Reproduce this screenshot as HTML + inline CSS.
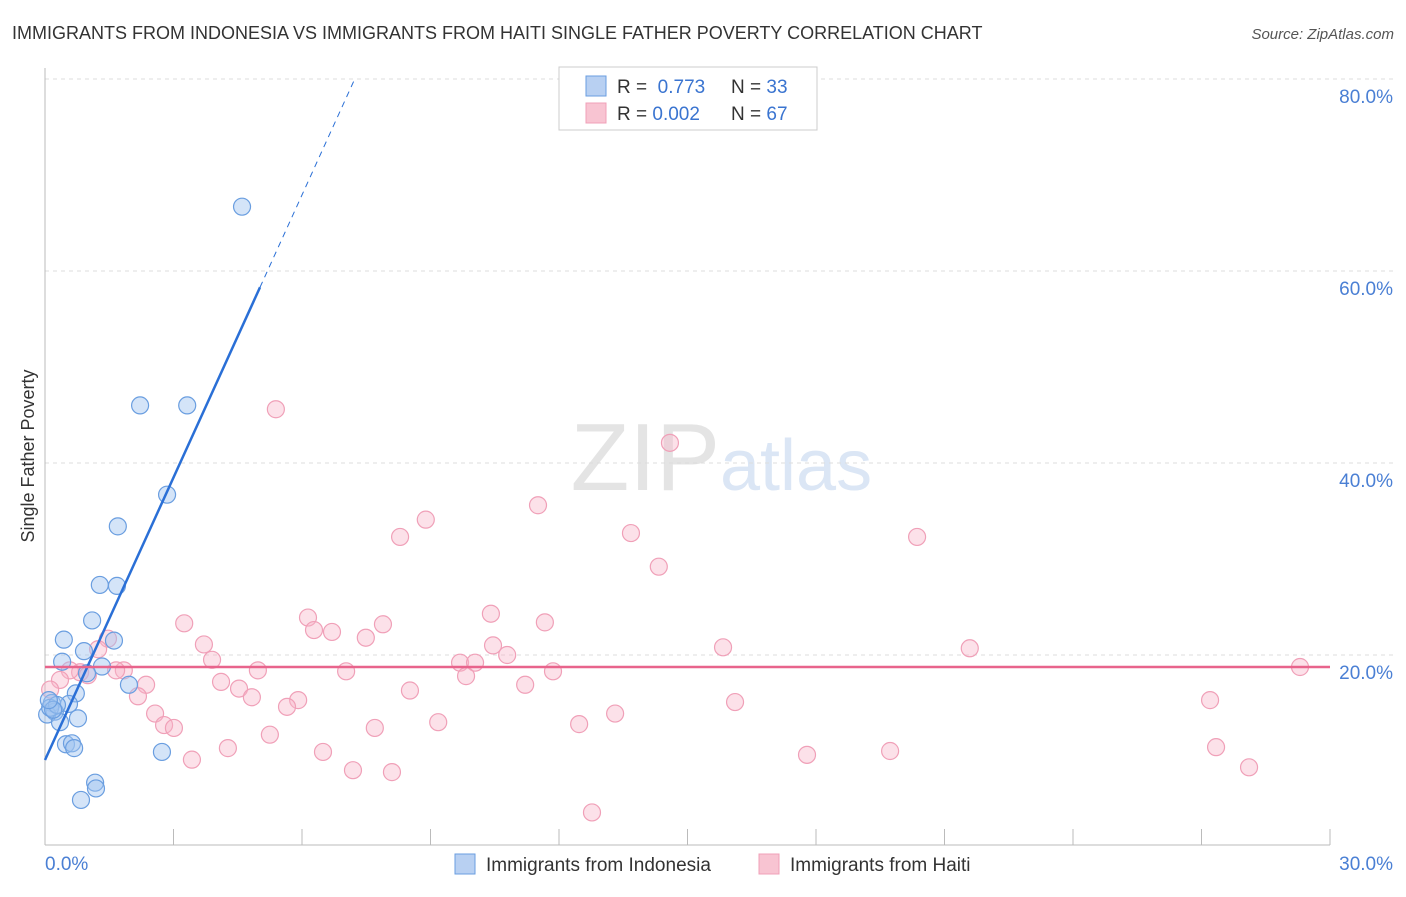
<!DOCTYPE html>
<html><head><meta charset="utf-8"><style>
body{margin:0;background:#fff;font-family:"Liberation Sans",sans-serif}
svg text{font-family:"Liberation Sans",sans-serif}
</style></head><body>
<svg width="1406" height="892" xmlns="http://www.w3.org/2000/svg">
<text x="12" y="39" font-size="18" fill="#333">IMMIGRANTS FROM INDONESIA VS IMMIGRANTS FROM HAITI SINGLE FATHER POVERTY CORRELATION CHART</text>
<text x="1394" y="39" font-size="15" fill="#555" font-style="italic" text-anchor="end">Source: ZipAtlas.com</text>
<text x="720" y="490" font-size="96" fill="#e4e4e4" text-anchor="end" font-family="Liberation Serif">ZIP</text>
<text x="720" y="490" font-size="72" fill="#dbe6f5">atlas</text>
<text x="34" y="456" font-size="18" fill="#333" transform="rotate(-90 34 456)" text-anchor="middle">Single Father Poverty</text>
<g id="axes"></g>
<g id="marks"></g>
<g>
<rect x="559" y="67" width="258" height="63" fill="#fff" stroke="#ccc"/>
<rect x="586" y="76" width="20" height="20" fill="#b8d0f2" stroke="#6a9ee0"/>
<rect x="586" y="103" width="20" height="20" fill="#f8c4d2" stroke="#f0a0b8"/>
<text x="617" y="93" font-size="19" fill="#333">R = <tspan fill="#3a74d0">&#160;0.773</tspan></text>
<text x="731" y="93" font-size="19" fill="#333">N = <tspan fill="#3a74d0">33</tspan></text>
<text x="617" y="120" font-size="19" fill="#333">R = <tspan fill="#3a74d0">0.002</tspan></text>
<text x="731" y="120" font-size="19" fill="#333">N = <tspan fill="#3a74d0">67</tspan></text>
</g>
<g>
<rect x="455" y="854" width="20" height="20" fill="#b8d0f2" stroke="#6a9ee0"/>
<text x="486" y="871" font-size="19" fill="#333">Immigrants from Indonesia</text>
<rect x="759" y="854" width="20" height="20" fill="#f8c4d2" stroke="#f0a0b8"/>
<text x="790" y="871" font-size="19" fill="#333">Immigrants from Haiti</text>
</g>
</svg>
<script>
const indoX=[4.60,2.22,3.32,2.85,1.70,1.28,1.68,1.10,0.44,0.91,1.61,0.40,1.33,0.98,1.96,0.72,0.56,0.16,0.23,0.05,0.77,0.35,0.49,0.63,0.68,2.73,1.17,1.19,0.84,0.12,0.28,0.19,0.09];
const indoY=[66.7,46.0,46.0,36.7,33.4,27.3,27.2,23.6,21.6,20.4,21.5,19.3,18.8,18.1,16.9,16.0,14.9,15.0,14.1,13.8,13.4,13.0,10.7,10.8,10.3,9.9,6.7,6.1,4.9,14.5,14.8,14.3,15.3];
const haitiX=[5.39,14.59,11.51,8.89,8.29,13.68,20.36,14.33,10.41,6.14,11.67,3.25,7.89,6.28,6.70,3.71,7.49,10.46,1.47,1.24,15.83,21.59,10.79,3.90,9.69,10.04,7.03,4.97,1.84,1.66,11.86,29.30,0.82,0.58,1.00,9.83,0.35,2.36,4.11,11.21,4.53,4.83,2.17,8.52,5.91,5.65,0.12,16.11,27.20,2.57,13.31,2.78,3.01,9.18,12.47,5.25,7.70,4.27,6.49,19.73,17.79,27.34,3.43,7.19,8.10,28.11,12.77];
const haitiY=[45.6,42.1,35.6,34.1,32.3,32.7,32.3,29.2,24.3,23.9,23.4,23.3,23.2,22.6,22.4,21.1,21.8,21.0,21.7,20.6,20.8,20.7,20.0,19.5,19.2,19.2,18.3,18.4,18.4,18.4,18.3,18.75,18.2,18.4,17.9,17.8,17.4,16.9,17.2,16.9,16.5,15.6,15.7,16.3,15.3,14.6,16.4,15.1,15.3,13.9,13.9,12.7,12.4,13.0,12.8,11.7,12.4,10.3,9.9,10.0,9.6,10.4,9.1,8.0,7.8,8.3,3.6];
const yTicks=[20,40,60,80];
const xTicks=[0,3,6,9,12,15,18,21,24,27,30];
const indoTrend=[9.06,9.81]; // intercept, slope
const haitiTrend=[18.75,0];
const NS="http://www.w3.org/2000/svg";
const sx=v=>45+v/30*1285;
const sy=v=>847-v/20*192;
function mk(tag,attrs,parent){const e=document.createElementNS(NS,tag);for(const k in attrs)e.setAttribute(k,attrs[k]);parent.appendChild(e);return e;}
const axes=document.getElementById('axes'),marks=document.getElementById('marks');
yTicks.forEach(t=>{
 const g=mk('line',{x1:45,x2:1393,y1:sy(t),y2:sy(t),stroke:'#ddd','stroke-dasharray':'4,4'},axes);
 
 
 const tx=mk('text',{x:1393,y:sy(t)+24,'font-size':19,fill:'#4a7fd4','text-anchor':'end'},axes);
 tx.textContent=t.toFixed(1)+'%';
 
 
});
const ya=mk('line',{x1:45,x2:45,y1:68,y2:845,stroke:'#bbb'},axes);


const xa=mk('line',{x1:45,x2:1330,y1:845,y2:845,stroke:'#bbb'},axes);


xTicks.forEach(t=>{
 const l=mk('line',{x1:sx(t),x2:sx(t),y1:829,y2:845,stroke:'#bbb'},axes);
 
 
});
[[0,'start'],[30,'end']].forEach(([t,a])=>{
 const tx=mk('text',{x:t===0?45:1393,y:870,'font-size':19,fill:'#4a7fd4','text-anchor':a},axes);
 tx.textContent=t.toFixed(1)+'%';
 
 
});
haitiX.forEach((x,i)=>{
 const c=mk('circle',{cx:sx(x),cy:sy(haitiY[i]),r:8.5,fill:'rgba(248,180,200,0.4)',stroke:'#f0a0b8','stroke-width':1.2},marks);
 
 
});
indoX.forEach((x,i)=>{
 const c=mk('circle',{cx:sx(x),cy:sy(indoY[i]),r:8.5,fill:'rgba(160,196,240,0.45)',stroke:'#6a9ee0','stroke-width':1.2},marks);
 
 
});
const f=x=>indoTrend[0]+indoTrend[1]*x;
const t1=mk('line',{x1:sx(0),y1:sy(f(0)),x2:sx(5.02),y2:sy(f(5.02)),stroke:'#2a6fd6','stroke-width':2.5},marks);


const t2=mk('line',{x1:sx(5.02),y1:sy(f(5.02)),x2:sx(7.24),y2:sy(f(7.24)),stroke:'#2a6fd6','stroke-width':1,'stroke-dasharray':'6,5'},marks);


const t3=mk('line',{x1:sx(0),y1:sy(haitiTrend[0]),x2:sx(30),y2:sy(haitiTrend[0]+haitiTrend[1]*30),stroke:'#e8648c','stroke-width':2.5},marks);


</script>
</body></html>
